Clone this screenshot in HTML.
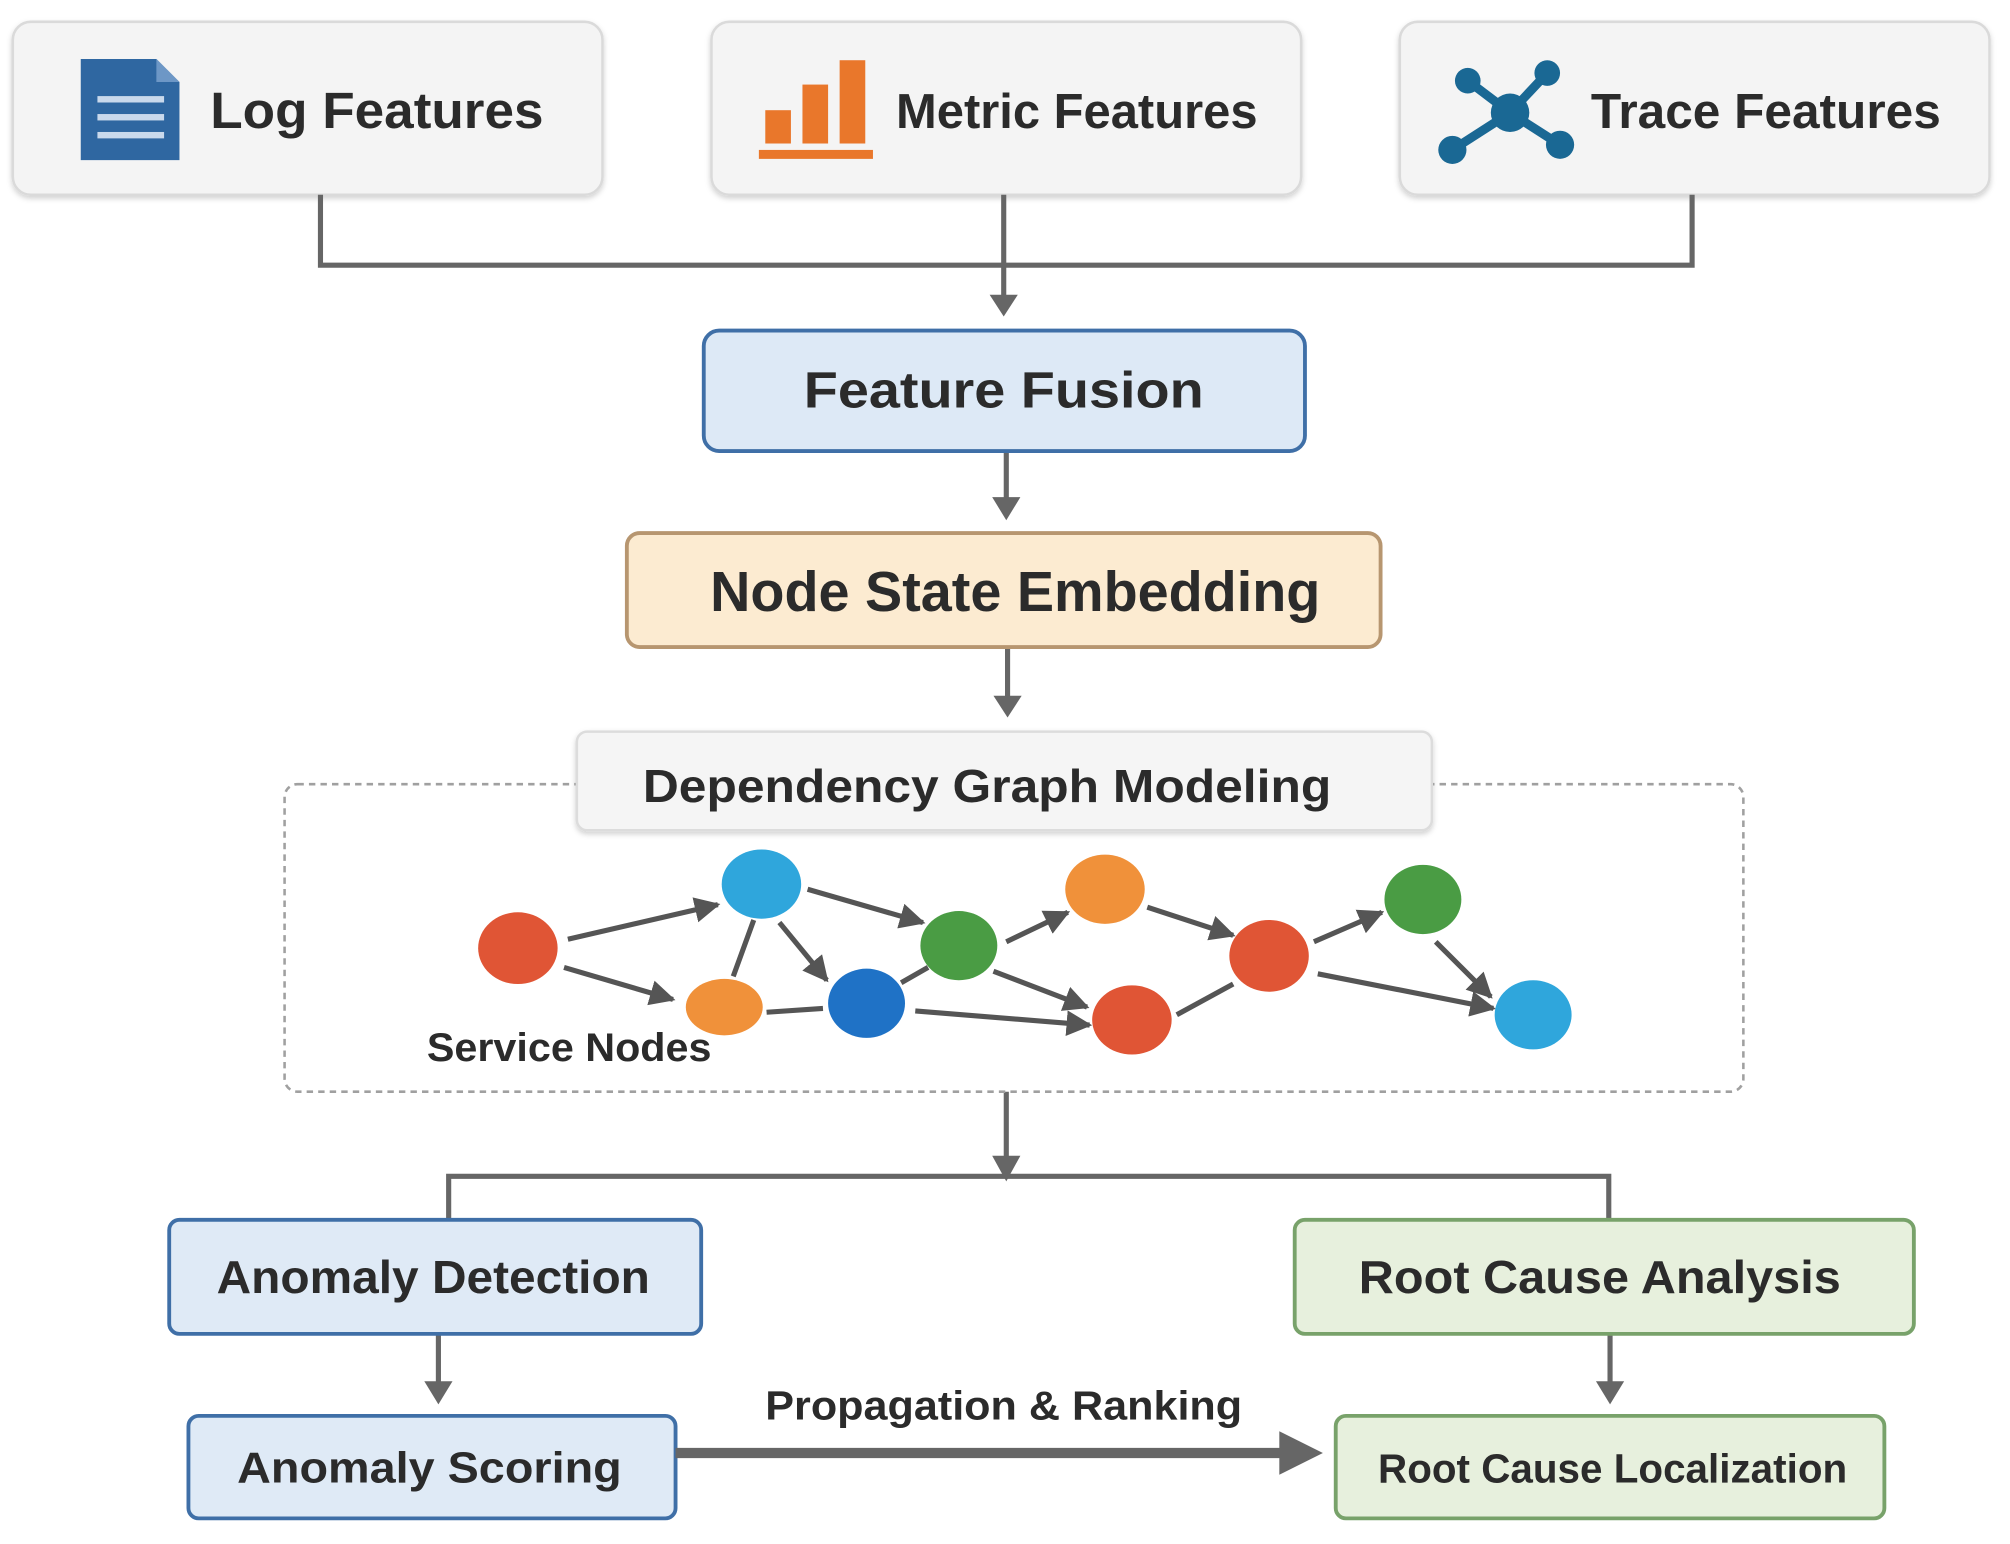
<!DOCTYPE html>
<html><head><meta charset="utf-8"><style>
html,body{margin:0;padding:0;background:#fff;}
svg{display:block;}
text{font-family:"Liberation Sans",sans-serif;font-weight:bold;fill:#2b2b2b;}
</style></head><body>
<svg width="2010" height="1544" viewBox="0 0 1568 1205" preserveAspectRatio="none" xmlns="http://www.w3.org/2000/svg">
<defs>
<marker id="a" viewBox="0 0 10 10" refX="9" refY="5" markerWidth="5" markerHeight="5" orient="auto"><path d="M0,0 L10,5 L0,10 z" fill="#555"/></marker>
<filter id="sh" x="-5%" y="-5%" width="110%" height="120%"><feDropShadow dx="0" dy="2" stdDeviation="2" flood-color="#000" flood-opacity="0.18"/></filter>
</defs>
<rect width="1568" height="1205" fill="#fff"/>

<rect x="10" y="17" width="460" height="135" rx="14" fill="#f4f4f4" stroke="#dadada" stroke-width="2" filter="url(#sh)"/>
<rect x="555" y="17" width="460" height="135" rx="14" fill="#f4f4f4" stroke="#dadada" stroke-width="2" filter="url(#sh)"/>
<rect x="1092" y="17" width="460" height="135" rx="14" fill="#f4f4f4" stroke="#dadada" stroke-width="2" filter="url(#sh)"/>

<path d="M63,46 L122,46 L140,64 L140,125 L63,125 z" fill="#2f67a1"/>
<path d="M122,46 L122,64 L140,64 z" fill="#6d97c6"/>
<rect x="76" y="75" width="52" height="5" fill="#c9d9ec"/>
<rect x="76" y="89" width="52" height="5" fill="#c9d9ec"/>
<rect x="76" y="103" width="52" height="5" fill="#c9d9ec"/>
<text x="164" y="100" font-size="40" textLength="260" lengthAdjust="spacingAndGlyphs">Log Features</text>

<rect x="597" y="86" width="20" height="26" fill="#e9772b"/>
<rect x="626" y="66" width="20" height="46" fill="#e9772b"/>
<rect x="655" y="47" width="20" height="65" fill="#e9772b"/>
<rect x="592" y="117" width="89" height="7" fill="#e9772b"/>
<text x="699" y="100" font-size="38" textLength="282" lengthAdjust="spacingAndGlyphs">Metric Features</text>

<g stroke="#1a6894" stroke-width="7">
<line x1="1178" y1="88" x2="1145" y2="63"/><line x1="1178" y1="88" x2="1207" y2="57"/>
<line x1="1178" y1="88" x2="1133" y2="117"/><line x1="1178" y1="88" x2="1217" y2="113"/>
</g>
<g fill="#1a6894">
<circle cx="1178" cy="88" r="15"/><circle cx="1145" cy="63" r="10"/><circle cx="1207" cy="57" r="10"/>
<circle cx="1133" cy="117" r="11"/><circle cx="1217" cy="113" r="11"/>
</g>
<text x="1241" y="100" font-size="38" textLength="273" lengthAdjust="spacingAndGlyphs">Trace Features</text>

<g stroke="#666" stroke-width="4" fill="none">
<polyline points="250,152 250,207 1320,207 1320,152"/>
<line x1="783" y1="152" x2="783" y2="232"/>
<line x1="785" y1="352" x2="785" y2="390"/>
<line x1="786" y1="505" x2="786" y2="545"/>
<line x1="785" y1="852" x2="785" y2="905"/>
<polyline points="350,952 350,918 1255,918 1255,952"/>
<line x1="342" y1="1041" x2="342" y2="1080"/>
<line x1="1256" y1="1041" x2="1256" y2="1080"/>
</g>
<g fill="#666">
<path d="M772,230 L794,230 L783,247 z"/>
<path d="M774,388 L796,388 L785,406 z"/>
<path d="M775,543 L797,543 L786,560 z"/>
<path d="M774,902 L796,902 L785,922 z"/>
<path d="M331,1078 L353,1078 L342,1096 z"/>
<path d="M1245,1078 L1267,1078 L1256,1096 z"/>
</g>

<rect x="549" y="258" width="469" height="94" rx="12" fill="#dde9f6" stroke="#3f6fa7" stroke-width="3"/>
<text x="783" y="318" font-size="40" text-anchor="middle" textLength="312" lengthAdjust="spacingAndGlyphs">Feature Fusion</text>

<rect x="489" y="416" width="588" height="89" rx="10" fill="#fcebd1" stroke="#b79670" stroke-width="3"/>
<text x="792" y="477" font-size="44" text-anchor="middle" textLength="476" lengthAdjust="spacingAndGlyphs">Node State Embedding</text>

<rect x="222" y="612" width="1138" height="240" rx="10" fill="none" stroke="#a0a0a0" stroke-width="2" stroke-dasharray="5,4"/>
<rect x="450" y="571" width="667" height="77" rx="8" fill="#f5f5f5" stroke="#dcdcdc" stroke-width="2" filter="url(#sh)"/>
<text x="770" y="626" font-size="36" text-anchor="middle" textLength="537" lengthAdjust="spacingAndGlyphs">Dependency Graph Modeling</text>

<g stroke="#555" stroke-width="4" fill="none">
<line x1="443" y1="733" x2="560" y2="706" marker-end="url(#a)"/>
<line x1="440" y1="755" x2="525" y2="780" marker-end="url(#a)"/>
<line x1="588" y1="718" x2="572" y2="762"/>
<line x1="608" y1="720" x2="645" y2="765" marker-end="url(#a)"/>
<line x1="630" y1="694" x2="720" y2="720" marker-end="url(#a)"/>
<line x1="598" y1="790" x2="642" y2="787"/>
<line x1="703" y1="767" x2="724" y2="755"/>
<line x1="714" y1="789" x2="850" y2="800" marker-end="url(#a)"/>
<line x1="785" y1="735" x2="833" y2="712" marker-end="url(#a)"/>
<line x1="775" y1="758" x2="848" y2="786" marker-end="url(#a)"/>
<line x1="895" y1="708" x2="962" y2="730" marker-end="url(#a)"/>
<line x1="918" y1="792" x2="962" y2="768"/>
<line x1="1025" y1="735" x2="1078" y2="712" marker-end="url(#a)"/>
<line x1="1028" y1="760" x2="1165" y2="787" marker-end="url(#a)"/>
<line x1="1120" y1="735" x2="1163" y2="778" marker-end="url(#a)"/>
</g>
<ellipse cx="404" cy="740" rx="31" ry="28" fill="#e05535"/>
<ellipse cx="594" cy="690" rx="31" ry="27" fill="#2fa6dc"/>
<ellipse cx="565" cy="786" rx="30" ry="22" fill="#f0913a"/>
<ellipse cx="676" cy="783" rx="30" ry="27" fill="#1f72c6"/>
<ellipse cx="748" cy="738" rx="30" ry="27" fill="#4a9c44"/>
<ellipse cx="862" cy="694" rx="31" ry="27" fill="#f0913a"/>
<ellipse cx="883" cy="796" rx="31" ry="27" fill="#e05535"/>
<ellipse cx="990" cy="746" rx="31" ry="28" fill="#e05535"/>
<ellipse cx="1110" cy="702" rx="30" ry="27" fill="#4a9c44"/>
<ellipse cx="1196" cy="792" rx="30" ry="27" fill="#2fa6dc"/>
<text x="333" y="828" font-size="31" textLength="222" lengthAdjust="spacingAndGlyphs">Service Nodes</text>

<rect x="132" y="952" width="415" height="89" rx="8" fill="#dfeaf6" stroke="#3f6fa7" stroke-width="3"/>
<text x="338" y="1009" font-size="36" text-anchor="middle" textLength="338" lengthAdjust="spacingAndGlyphs">Anomaly Detection</text>
<rect x="1010" y="952" width="483" height="89" rx="8" fill="#e7f0dd" stroke="#78a26a" stroke-width="3"/>
<text x="1248" y="1009" font-size="36" text-anchor="middle" textLength="376" lengthAdjust="spacingAndGlyphs">Root Cause Analysis</text>
<rect x="147" y="1105" width="380" height="80" rx="8" fill="#dfeaf6" stroke="#3f6fa7" stroke-width="3"/>
<text x="335" y="1157" font-size="34" text-anchor="middle" textLength="300" lengthAdjust="spacingAndGlyphs">Anomaly Scoring</text>
<rect x="1042" y="1105" width="428" height="80" rx="8" fill="#e7f0dd" stroke="#78a26a" stroke-width="3"/>
<text x="1258" y="1157" font-size="32" text-anchor="middle" textLength="366" lengthAdjust="spacingAndGlyphs">Root Cause Localization</text>

<line x1="527" y1="1134" x2="1002" y2="1134" stroke="#666" stroke-width="8"/>
<path d="M998,1117 L1032,1134 L998,1151 z" fill="#666"/>
<text x="783" y="1108" font-size="32" text-anchor="middle" textLength="372" lengthAdjust="spacingAndGlyphs">Propagation &amp; Ranking</text>
</svg>
</body></html>
